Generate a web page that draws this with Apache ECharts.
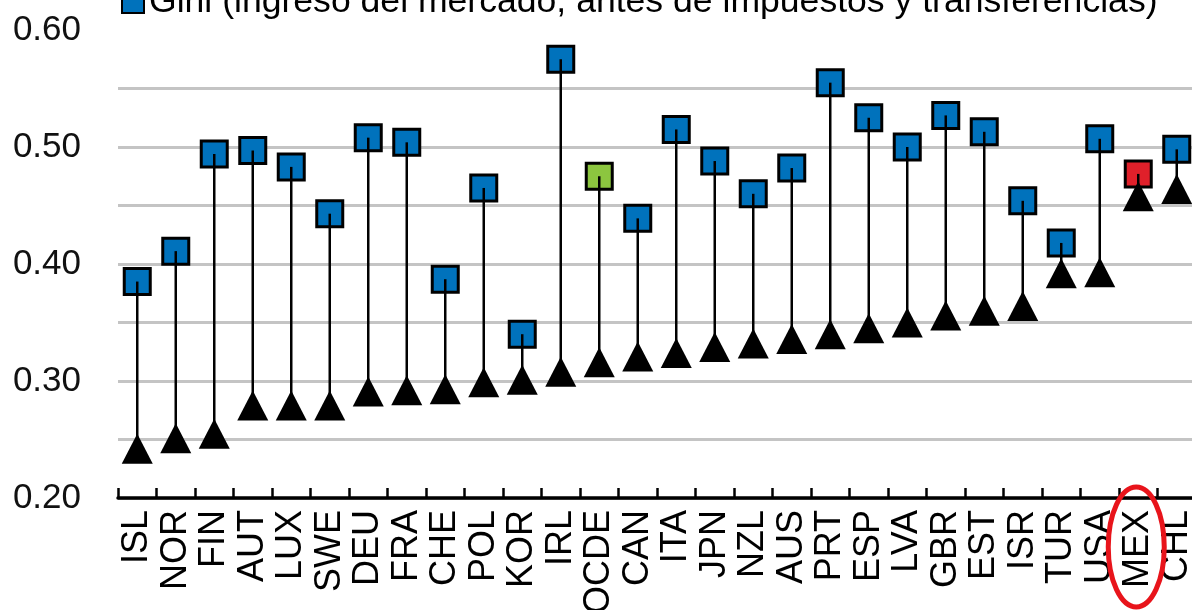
<!DOCTYPE html>
<html>
<head>
<meta charset="utf-8">
<script src="https://cdn.jsdelivr.net/npm/echarts@6/dist/echarts.min.js"></script>
<style>
html,body{margin:0;padding:0;background:#fff;}
#c{width:1192px;height:610px;}
</style>
</head>
<body>
<div id="c"></div>
<script>
const categories = ['ISL','NOR','FIN','AUT','LUX','SWE','DEU','FRA','CHE','POL','KOR','IRL','OCDE','CAN','ITA','JPN','NZL','AUS','PRT','ESP','LVA','GBR','EST','ISR','TUR','USA','MEX','CHL'];
const giniMarket = [0.385,0.411,0.494,0.497,0.483,0.443,0.508,0.504,0.387,0.465,0.340,0.575,0.475,0.439,0.515,0.488,0.460,0.482,0.555,0.525,0.500,0.527,0.513,0.454,0.418,0.507,0.477,0.498];
const giniAfter = [0.242,0.251,0.255,0.279,0.279,0.279,0.291,0.292,0.293,0.299,0.301,0.308,0.316,0.321,0.324,0.329,0.332,0.336,0.340,0.345,0.350,0.356,0.360,0.364,0.392,0.393,0.458,0.464];
const legendLabel = 'Gini (ingreso del mercado, antes de impuestos y transferencias)';
const highlightCategory = 'MEX';

const BLUE = '#0072BC', GREEN = '#8CC63F', RED = '#E0202A';
const specialColors = { OCDE: GREEN, MEX: RED };
const FONT = '"Liberation Sans", Arial, sans-serif';

const chart = echarts.init(document.getElementById('c'), null, { renderer: 'canvas' });

const option = {
  animation: false,
  backgroundColor: '#fff',
  textStyle: { fontFamily: FONT },
  grid: { left: 118, right: -4, top: 30, bottom: 112, containLabel: false, outerBoundsMode: 'none' },
  legend: {
    data: [legendLabel],
    left: 121, top: -17, padding: 0,
    itemWidth: 22, itemHeight: 22,
    icon: 'rect',
    itemStyle: { color: BLUE, borderColor: '#000', borderWidth: 2 },
    textStyle: { fontSize: 35.6, color: '#000', fontFamily: FONT, lineHeight: 38 }
  },
  xAxis: {
    type: 'category',
    data: categories,
    boundaryGap: true,
    axisLine: { show: true, lineStyle: { color: '#000', width: 3.5 } },
    axisTick: { show: true, inside: true, length: 10, lineStyle: { color: '#000', width: 2.5 } },
    axisLabel: { rotate: 90, fontSize: 36, color: '#000', margin: 12, fontFamily: FONT, interval: 0 },
    splitLine: { show: false }
  },
  yAxis: {
    type: 'value',
    min: 0.20, max: 0.60, interval: 0.05,
    axisLine: { show: false },
    axisTick: { show: false },
    axisLabel: {
      fontSize: 35, color: '#111', margin: 37, fontFamily: FONT,
      formatter: v => (Math.round(v * 100) % 10 === 0 ? v.toFixed(2) : '')
    },
    splitLine: { show: true, showMaxLine: false, lineStyle: { color: '#C4C4C4', width: 3 } }
  },
  series: [
    {
      name: legendLabel,
      type: 'scatter',
      symbol: 'rect',
      symbolSize: 26,
      z: 2,
      itemStyle: { color: BLUE, borderColor: '#000', borderWidth: 3, opacity: 1 },
      data: categories.map((c, i) => ({
        value: [c, giniMarket[i]],
        itemStyle: specialColors[c] ? { color: specialColors[c] } : undefined
      }))
    },
    {
      name: 'stems',
      type: 'custom',
      z: 3,
      silent: true,
      renderItem: (params, api) => {
        const p1 = api.coord([api.value(0), api.value(1)]);
        const p2 = api.coord([api.value(0), api.value(2)]);
        return {
          type: 'line',
          shape: { x1: p1[0], y1: p1[1], x2: p2[0], y2: p2[1] },
          style: { stroke: '#000', lineWidth: 2.5 }
        };
      },
      data: categories.map((c, i) => [i, giniAfter[i], giniMarket[i]])
    },
    {
      name: 'Gini (después de impuestos y transferencias)',
      type: 'scatter',
      symbol: 'triangle',
      symbolSize: [31, 30],
      z: 4,
      itemStyle: { color: '#000', opacity: 1 },
      data: categories.map((c, i) => [c, giniAfter[i]])
    }
  ]
};
chart.setOption(option);

// Red highlight oval around the MEX label, placed from the axis scale
const px = chart.convertToPixel({ xAxisIndex: 0 }, highlightCategory);
const py = chart.convertToPixel({ yAxisIndex: 0 }, 0.20);
chart.setOption({
  graphic: [{
    type: 'ellipse',
    shape: { cx: px - 2, cy: py + 49, rx: 28, ry: 60 },
    style: { fill: 'none', stroke: '#E8141B', lineWidth: 5 },
    z: 10
  }]
});
</script>
</body>
</html>
